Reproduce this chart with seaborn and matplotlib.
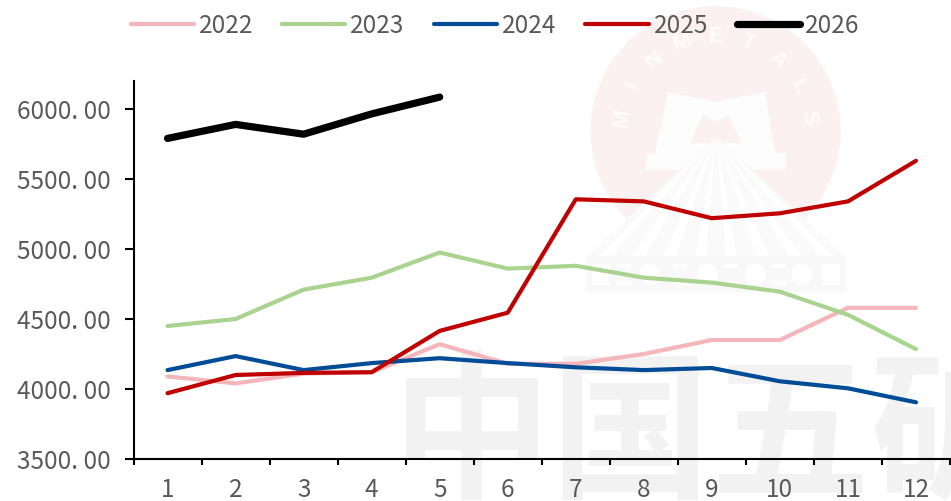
import numpy as np
import pandas as pd
import matplotlib
matplotlib.use("Agg")
import matplotlib.pyplot as plt
from matplotlib.patches import Ellipse, Polygon
import seaborn as sns

months = list(range(1, 13))
y2022 = [4090, 4040, 4110, 4120, 4320, 4180, 4180, 4250, 4350, 4350, 4580, 4580]
y2023 = [4450, 4500, 4710, 4795, 4975, 4860, 4880, 4795, 4760, 4695, 4530, 4285]
y2024 = [4135, 4235, 4135, 4185, 4220, 4185, 4155, 4135, 4150, 4055, 4005, 3905]
y2025 = [3970, 4100, 4115, 4120, 4415, 4545, 5355, 5340, 5220, 5255, 5340, 5630]
y2026 = [5790, 5890, 5820, 5965, 6085]
years = ["2022", "2023", "2024", "2025", "2026"]
yticks = [3500, 4000, 4500, 5000, 5500, 6000]
colors = ["#f4b6bb", "#aad38f", "#004c97", "#c00000", "#000000"]
widths = [3.0, 3.0, 3.0, 3.0, 5.2]

rows = []
for name, vals in zip(years, [y2022, y2023, y2024, y2025, y2026]):
    for m, v in zip(months, vals):
        rows.append({"month": m, "value": v, "year": name})
df = pd.DataFrame(rows)

sns.set_theme(style="white")
CJK = "Noto Sans CJK SC"
plt.rcParams["font.family"] = [CJK, "DejaVu Sans"]

W, H = 951, 501
fig = plt.figure(figsize=(W / 100, H / 100), dpi=100, facecolor="white")
ax = fig.add_axes([133.5 / W, 1 - 459 / H, (950 - 133.5) / W, (459 - 81) / H])
ax.patch.set_alpha(0)


def P(x, y):
    return (x / W, 1 - y / H)


def add_poly(pts, color):
    fig.add_artist(Polygon([P(*p) for p in pts], closed=True, transform=fig.transFigure,
                           facecolor=color, edgecolor="none", zorder=-2))


def add_disc(x, y, d, color):
    fig.add_artist(Ellipse(P(x, y), d / W, d / H, transform=fig.transFigure,
                           facecolor=color, edgecolor="none", zorder=-2))


# ---- background watermark (logo and company name) ----
add_disc(715.5, 131, 250, "#fbf1f1")
add_poly([(668, 92), (716, 102), (765, 92), (775, 153), (786, 153), (786, 170), (646, 170), (646, 154), (655, 154)], "#fdfdfd")
add_poly([(703, 115), (716, 122), (728, 115), (742, 143), (690, 143)], "#fbf1f1")
# fan of rays
add_poly([(716, 136), (587, 256), (845, 256)], "#fafafa")
for xa, xb in [(600, 612), (632, 645), (664, 676), (696, 706), (726, 737), (757, 769), (789, 801), (820, 832)]:
    add_poly([(716, 136), (xa, 256), (xb, 256)], "#ffffff")
# base band
add_poly([(586, 256), (846, 256), (846, 292), (586, 292)], "#f8f8f8")
for x0, x1 in [(592, 610), (822, 840)]:
    add_poly([(x0, 264), (x1, 264), (x1, 285), (x0, 285)], "#ffffff")
for xc in [650, 707, 755, 802]:
    add_disc(xc, 274.5, 21, "#ffffff")
for xc in [624, 680, 731, 779]:
    add_poly([(xc - 7, 264), (xc + 7, 264), (xc + 7, 268), (xc - 7, 268)], "#fefefe")
    add_poly([(xc - 7, 281), (xc + 7, 281), (xc + 7, 285), (xc - 7, 285)], "#fefefe")
for ch, ang in zip("MINMETALS", np.linspace(-82, 82, 9)):
    r = 94
    cx = 715.5 + r * np.sin(np.radians(ang))
    cy = 131 - r * np.cos(np.radians(ang))
    fig.text(*P(cx, cy), ch, color="#fefcfc", fontsize=16, fontweight="bold", zorder=-1,
             rotation=-ang, rotation_mode="anchor", ha="center", va="center", family="Liberation Sans")
fig.text(*P(392, 485), "中国五矿", color="#f2f2f2", fontsize=115, fontweight="bold", zorder=-1,
         ha="left", va="baseline", family=[CJK, "DejaVu Sans"], clip_on=True)

# ---- chart ----
sns.lineplot(data=df, x="month", y="value", hue="year", size="year",
             hue_order=years, size_order=years,
             palette=dict(zip(years, colors)), sizes=dict(zip(years, widths)),
             errorbar=None, solid_capstyle="round", ax=ax, legend=True)

ax.set_xlim(0.5, 12.5)
ax.set_ylim(3500, 6200)
ax.set_xlabel("")
ax.set_ylabel("")
for s in ["top", "right"]:
    ax.spines[s].set_visible(False)
for s in ["left", "bottom"]:
    ax.spines[s].set_color("black")
    ax.spines[s].set_linewidth(1.5)

ax.set_yticks(yticks)
ax.set_yticklabels([f"{v}. 00" for v in yticks])
ax.set_xticks(np.arange(0.5, 13, 1))
ax.set_xticklabels([])
ax.set_xticks(months, minor=True)
ax.set_xticklabels([str(m) for m in months], minor=True)
ax.tick_params(axis="y", which="major", left=True, length=6.5, width=1.5, color="black",
               labelsize=17.5, labelcolor="#595959", pad=10)
ax.tick_params(axis="x", which="major", bottom=True, length=4.5, width=1.5, color="black")
ax.tick_params(axis="x", which="minor", bottom=True, length=0, labelsize=17.5,
               labelcolor="#595959", pad=13)

sns.move_legend(ax, "center", bbox_to_anchor=(495 / W, 1 - 26 / H),
                bbox_transform=fig.transFigure, ncol=5, frameon=False, title=None,
                fontsize=17.5, labelcolor="#595959", handlelength=2.6, handletextpad=0.2,
                columnspacing=1.2, borderpad=0, borderaxespad=0)
for line in ax.get_legend().get_lines():
    line.set_solid_capstyle("round")

fig.savefig("out.png", dpi=100, facecolor="white")
